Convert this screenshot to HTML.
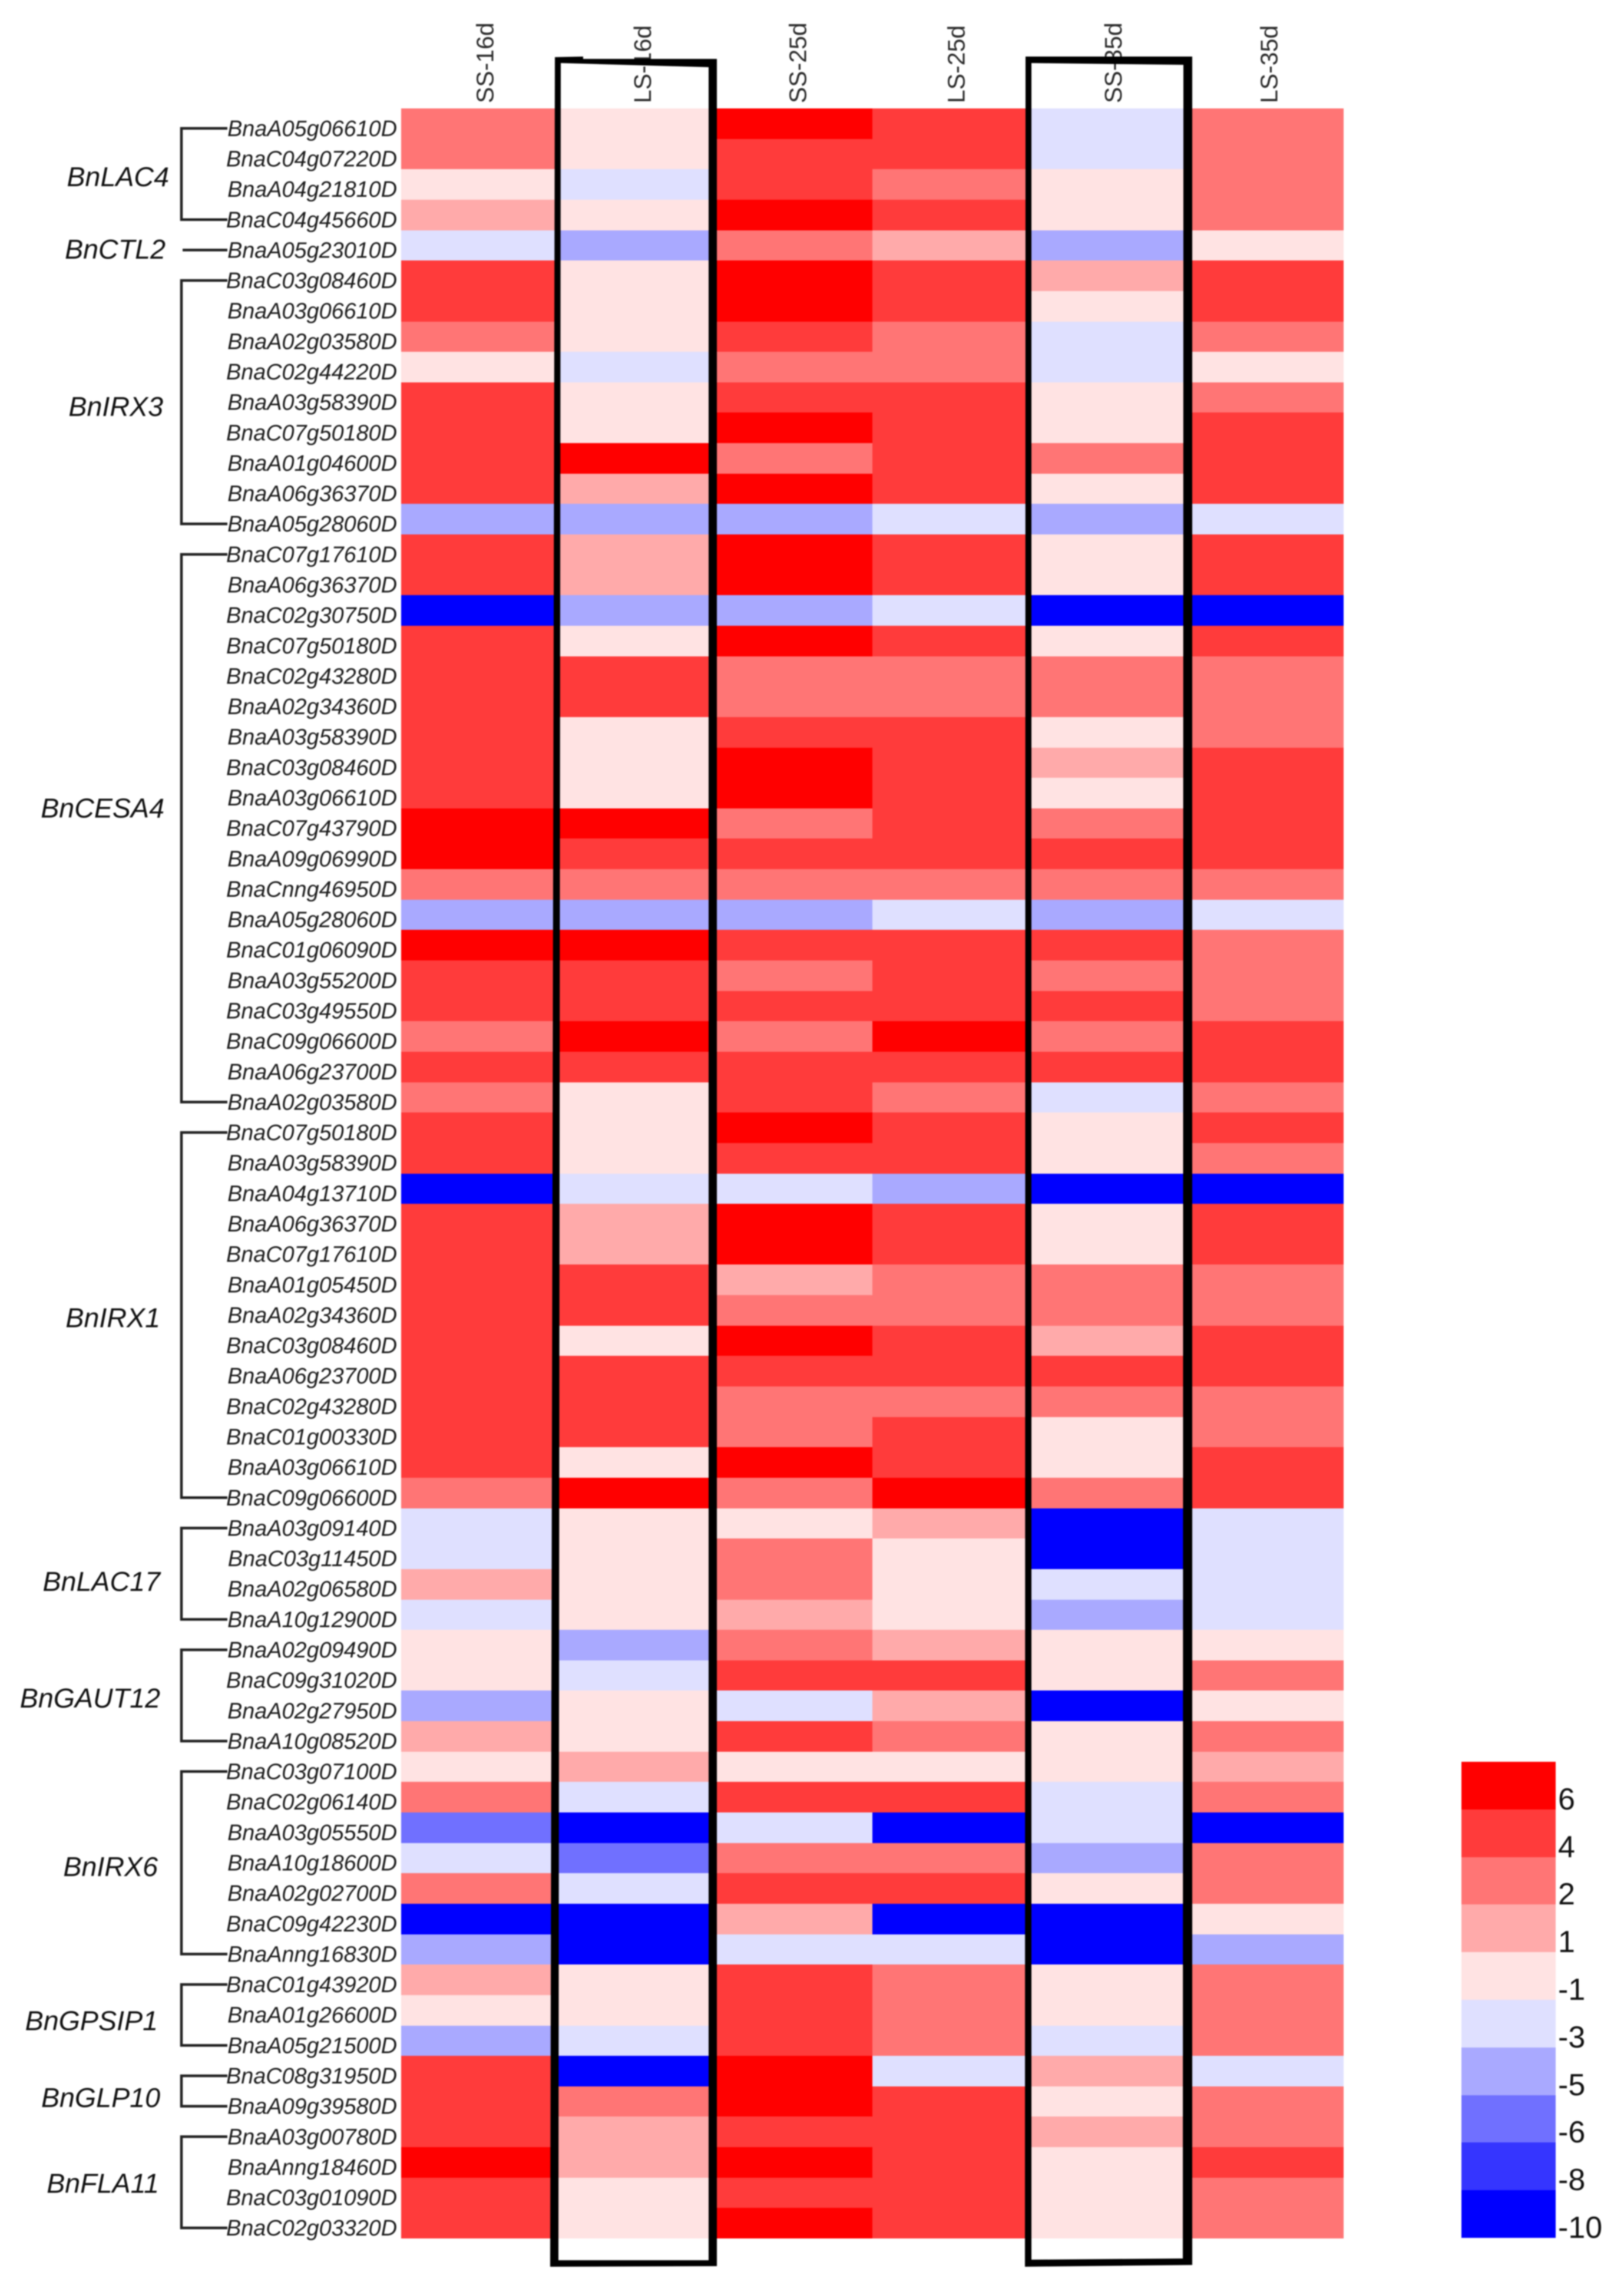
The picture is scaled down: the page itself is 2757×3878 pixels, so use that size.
<!DOCTYPE html>
<html lang="en">
<head>
<meta charset="utf-8">
<title>Gene expression heatmap</title>
<style>
  html, body { margin: 0; padding: 0; background: #ffffff; }
  svg { display: block; font-family: "Liberation Sans", sans-serif; filter: blur(1px); }
  .gene { font-size: 37.8px; font-style: italic; fill: #1c1c1c; }
  .group { font-size: 46.6px; font-style: italic; fill: #111111; }
  .col { font-size: 41px; fill: #2a2a2a; }
  .leg { font-size: 52px; fill: #111111; }
</style>
</head>
<body>
<svg id="chart" xmlns="http://www.w3.org/2000/svg" width="2757" height="3878" viewBox="0 0 2757 3878">
  <rect x="0" y="0" width="2757" height="3878" fill="#ffffff"/>
  <g id="col-labels"></g>
  <g id="cells" shape-rendering="crispEdges"></g>
  <g id="brackets"></g>
  <g id="gene-labels"></g>
  <g id="group-labels"></g>
  <g id="legend"></g>
  <path fill="#000000" fill-rule="evenodd"
        d="M942,97 L990,96 L990,100 L1217,100 L1217,3846 L934,3847 Z M952,107 L1203,114 L1203,3836 L948,3836 Z"/>
  <path fill="#000000" fill-rule="evenodd"
        d="M1741,96 L2024,96 L2024,3844 L1740,3847 Z M1751,107 L2009,110 L2008,3833 L1751,3835 Z"/>
</svg>
<script>
// ---- chart data ----
const columnLabels = ["SS-16d", "LS-16d", "SS-25d", "LS-25d", "SS-35d", "LS-35d"];

const groupNames = ["BnLAC4", "BnCTL2", "BnIRX3", "BnCESA4", "BnIRX1", "BnLAC17", "BnGAUT12", "BnIRX6", "BnGPSIP1", "BnGLP10", "BnFLA11"];
const groupSizes = [4, 1, 9, 19, 13, 4, 4, 7, 3, 2, 4];

const geneLabels = [
  "BnaA05g06610D","BnaC04g07220D","BnaA04g21810D","BnaC04g45660D",
  "BnaA05g23010D",
  "BnaC03g08460D","BnaA03g06610D","BnaA02g03580D","BnaC02g44220D","BnaA03g58390D","BnaC07g50180D","BnaA01g04600D","BnaA06g36370D","BnaA05g28060D",
  "BnaC07g17610D","BnaA06g36370D","BnaC02g30750D","BnaC07g50180D","BnaC02g43280D","BnaA02g34360D","BnaA03g58390D","BnaC03g08460D","BnaA03g06610D","BnaC07g43790D","BnaA09g06990D","BnaCnng46950D","BnaA05g28060D","BnaC01g06090D","BnaA03g55200D","BnaC03g49550D","BnaC09g06600D","BnaA06g23700D","BnaA02g03580D",
  "BnaC07g50180D","BnaA03g58390D","BnaA04g13710D","BnaA06g36370D","BnaC07g17610D","BnaA01g05450D","BnaA02g34360D","BnaC03g08460D","BnaA06g23700D","BnaC02g43280D","BnaC01g00330D","BnaA03g06610D","BnaC09g06600D",
  "BnaA03g09140D","BnaC03g11450D","BnaA02g06580D","BnaA10g12900D",
  "BnaA02g09490D","BnaC09g31020D","BnaA02g27950D","BnaA10g08520D",
  "BnaC03g07100D","BnaC02g06140D","BnaA03g05550D","BnaA10g18600D","BnaA02g02700D","BnaC09g42230D","BnaAnng16830D",
  "BnaC01g43920D","BnaA01g26600D","BnaA05g21500D",
  "BnaC08g31950D","BnaA09g39580D",
  "BnaA03g00780D","BnaAnng18460D","BnaC03g01090D","BnaC02g03320D"
];

const ss16 = [2,2,-1,1,-3, 4,4,2,-1,4,4,4,4,-5, 4,4,-10,4,4,4,4,4,4,6,6,2,-5,6,4,4,2,4,2, 4,4,-10,4,4,4,4,4,4,4,4,4,2, -3,-3,1,-3, -1,-1,-5,1, -1,2,-6,-3,2,-10,-5, 1,-1,-5, 4,4, 4,6,4,4];
const ls16 = [-1,-1,-3,-1,-5, -1,-1,-1,-3,-1,-1,6,1,-5, 1,1,-5,-1,4,4,-1,-1,-1,6,4,2,-5,6,4,4,6,4,-1, -1,-1,-3,1,1,4,4,-1,4,4,4,-1,6, -1,-1,-1,-1, -5,-3,-1,-1, 1,-3,-10,-6,-3,-10,-10, -1,-1,-3, -10,2, 1,1,-1,-1];
const ss25 = [6,4,4,6,2, 6,6,4,2,4,6,2,6,-5, 6,6,-5,6,2,2,4,6,6,2,4,2,-5,4,2,4,2,4,4, 6,4,-3,6,6,1,2,6,4,2,2,6,2, -1,2,2,1, 2,4,-3,4, -1,4,-3,2,4,1,-3, 4,4,4, 6,6, 4,6,4,6];
const ls25 = [4,4,2,4,1, 4,4,2,2,4,4,4,4,-3, 4,4,-3,4,2,2,4,4,4,4,4,2,-3,4,4,4,6,4,2, 4,4,-5,4,4,2,2,4,4,2,4,4,6, 1,-1,-1,-1, 1,4,1,2, -1,4,-10,2,4,-10,-3, 2,2,2, -3,4, 4,4,4,4];
const ss35 = [-3,-3,-1,-1,-5, 1,-1,-3,-3,-1,-1,2,-1,-5, -1,-1,-10,-1,2,2,-1,1,-1,2,4,2,-5,4,2,4,2,4,-3, -1,-1,-10,-1,-1,2,2,1,4,2,-1,-1,2, -10,-10,-3,-5, -1,-1,-10,-1, -1,-3,-3,-5,-1,-10,-10, -1,-1,-3, 1,-1, 1,-1,-1,-1];
const ls35 = [2,2,2,2,-1, 4,4,2,-1,2,4,4,4,-3, 4,4,-10,4,2,2,2,4,4,4,4,2,-3,2,2,2,4,4,2, 4,2,-10,4,4,2,2,4,4,2,2,4,4, -3,-3,-3,-3, -1,2,-1,2, 1,2,-10,2,2,-1,-5, 2,2,2, -3,2, 2,4,2,2];
const seriesValues = [ss16, ls16, ss25, ls25, ss35, ls35];

const legendTicks = [6, 4, 2, 1, -1, -3, -5, -6, -8, -10];

// ---- scales and layout ----
const SVG_NS = "http://www.w3.org/2000/svg";
const plotLeft = 681, plotRight = 2281, plotTop = 184, plotBottom = 3799;
const colWidth = (plotRight - plotLeft) / columnLabels.length;
const rowHeight = (plotBottom - plotTop) / geneLabels.length;
function xScale(col) { return plotLeft + col * colWidth; }
function yScale(row) { return plotTop + row * rowHeight; }
function labelY(row) { return yScale(row) + rowHeight / 2 + 8; }

function colorFor(value) {
  const map = {"6":"#ff0000","4":"#ff3b3b","2":"#ff7575","1":"#ffaaaa","-1":"#ffe3e3","-3":"#dfe0ff","-5":"#a9a9ff","-6":"#7070ff","-8":"#3535ff","-10":"#0000ff"};
  return map[String(value)];
}
function make(tag, attrs, parent) {
  const el = document.createElementNS(SVG_NS, tag);
  for (const k in attrs) el.setAttribute(k, attrs[k]);
  parent.appendChild(el);
  return el;
}

// cells
const cellsG = document.getElementById("cells");
seriesValues.forEach(function (series, c) {
  series.forEach(function (value, r) {
    const x0 = Math.round(xScale(c)), x1 = Math.round(xScale(c + 1));
    const y0 = Math.round(yScale(r)), y1 = Math.round(yScale(r + 1));
    const cell = make("rect", {x: x0, y: y0, width: x1 - x0, height: y1 - y0, fill: colorFor(value)}, cellsG);
    
    
  });
});

// column labels
const colCenterOffset = [23, 24, 21, 23, 23, 21];
const colG = document.getElementById("col-labels");
columnLabels.forEach(function (name, c) {
  const bx = xScale(c) + colWidth / 2 + colCenterOffset[c];
  const t = make("text", {class: "col", transform: "translate(" + bx + ",175) rotate(-90)"}, colG);
  
  
  t.textContent = name;
});

// gene labels
const geneG = document.getElementById("gene-labels");
geneLabels.forEach(function (name, r) {
  const t = make("text", {class: "gene", x: 674, y: labelY(r) + 13, "text-anchor": "end"}, geneG);
  
  
  t.textContent = name;
});

// brackets and family labels
const groupLabelRow = [1.59, 3.97, 9.14, 22.34, 39.09, 47.75, 51.59, 57.13, 62.19, 64.72, 67.53];
const groupLabelEnd = [287, 281, 277, 279, 272, 272, 272, 268, 268, 272, 270];
const bracketG = document.getElementById("brackets");
const groupG = document.getElementById("group-labels");
let startRow = 0;
groupNames.forEach(function (name, g) {
  const endRow = startRow + groupSizes[g] - 1;
  const y0 = labelY(startRow), y1 = labelY(endRow);
  const d = groupSizes[g] === 1
    ? "M310," + y0 + " H386"
    : "M386," + y0 + " H308 V" + y1 + " H386";
  const p = make("path", {d: d, fill: "none", stroke: "#222222", "stroke-width": 4.5}, bracketG);
  
  
  const t = make("text", {class: "group", x: groupLabelEnd[g], y: labelY(groupLabelRow[g]) + 16, "text-anchor": "end"}, groupG);
  
  
  t.textContent = name;
  startRow = endRow + 1;
});

// legend
const legendLeft = 2481, legendRight = 2641, legendTop = 2990, legendBottom = 3798;
const legendBand = (legendBottom - legendTop) / legendTicks.length;
const legendG = document.getElementById("legend");
legendTicks.forEach(function (tick, i) {
  const y0 = Math.round(legendTop + i * legendBand), y1 = Math.round(legendTop + (i + 1) * legendBand);
  const band = make("rect", {x: legendLeft, y: y0, width: legendRight - legendLeft, height: y1 - y0, fill: colorFor(tick), "shape-rendering": "crispEdges"}, legendG);
  
  
  const t = make("text", {class: "leg", x: 2645, y: y1}, legendG);
  
  
  t.textContent = String(tick);
});
</script>
</body>
</html>
